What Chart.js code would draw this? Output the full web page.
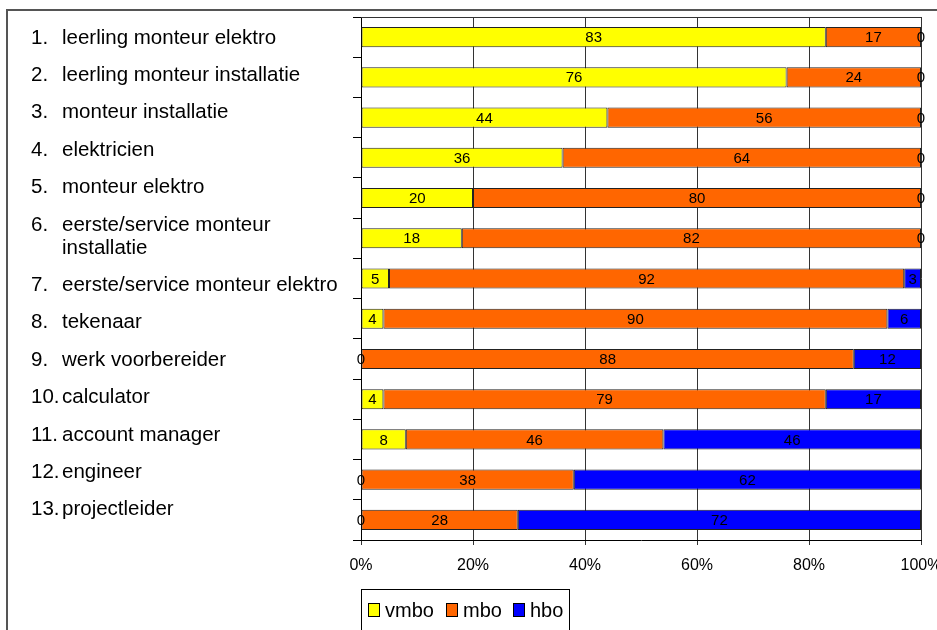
<!DOCTYPE html>
<html>
<head>
<meta charset="utf-8">
<script src="https://cdn.jsdelivr.net/npm/chart.js@4/dist/chart.umd.min.js"></script>
<style>
  html, body { margin: 0; padding: 0; background: #fff; }
  #wrap { width: 937px; height: 630px; }
</style>
</head>
<body>
<div id="wrap"><canvas id="bar-graph"></canvas></div>
<script>
const categories = [
    'leerling monteur elektro',
    'leerling monteur installatie',
    'monteur installatie',
    'elektricien',
    'monteur elektro',
    ['eerste/service monteur', 'installatie'],
    'eerste/service monteur elektro',
    'tekenaar',
    'werk voorbereider',
    'calculator',
    'account manager',
    'engineer',
    'projectleider'
];
const vmbo = [83, 76, 44, 36, 20, 18, 5, 4, 0, 4, 8, 0, 0];
const mbo  = [17, 24, 56, 64, 80, 82, 92, 90, 88, 79, 46, 38, 28];
const hbo  = [0, 0, 0, 0, 0, 0, 3, 6, 12, 17, 46, 62, 72];
const seriesNames = ['vmbo', 'mbo', 'hbo'];
const colors = ['#ffff00', '#ff6600', '#0000ff'];

const FONT = 'Arial, "Liberation Sans", sans-serif';

// left hand list, frame, top border, values and legend
const extras = {
    id: 'extras',
    beforeDatasetsDraw(chart) {
        const ctx = chart.ctx;
        const a = chart.chartArea;
        ctx.save();
        ctx.strokeStyle = '#333';
        ctx.lineWidth = 1;
        ctx.beginPath();
        ctx.moveTo(a.left, Math.round(a.top) + 0.5);
        ctx.lineTo(a.right, Math.round(a.top) + 0.5);
        ctx.stroke();
        ctx.restore();
    },
    afterDraw(chart) {
        const ctx = chart.ctx;
        ctx.save();

        // outer frame
        ctx.strokeStyle = '#555';
        ctx.lineWidth = 2;
        ctx.beginPath();
        ctx.moveTo(7, 640);
        ctx.lineTo(7, 10);
        ctx.lineTo(940, 10);
        ctx.stroke();

        // category list
        ctx.fillStyle = '#000';
        ctx.font = '20.5px ' + FONT;
        ctx.textBaseline = 'middle';
        ctx.textAlign = 'left';
        let y = 38;
        categories.forEach((c, i) => {
            ctx.fillText((i + 1) + '.', 31, y);
            const lines = Array.isArray(c) ? c : [c];
            lines.forEach((l, j) => {
                if (j > 0) y += 23;
                ctx.fillText(l, 62, y);
            });
            y += 37.4;
        });

        // values in the bars
        ctx.font = '15px ' + FONT;
        ctx.textAlign = 'center';
        chart.data.datasets.forEach((ds, di) => {
            chart.getDatasetMeta(di).data.forEach((bar, i) => {
                const p = bar.getProps(['x', 'y', 'base']);
                ctx.fillText(String(ds.data[i]), (p.x + p.base) / 2, p.y + 1);
            });
        });

        // legend
        ctx.strokeStyle = '#000';
        ctx.lineWidth = 1;
        ctx.fillStyle = '#fff';
        ctx.fillRect(361.5, 589.5, 208, 45);
        ctx.strokeRect(361.5, 589.5, 208, 45);
        ctx.font = '20px ' + FONT;
        ctx.textAlign = 'left';
        const lx = [368, 446, 513];
        seriesNames.forEach((n, i) => {
            ctx.fillStyle = colors[i];
            ctx.fillRect(lx[i] + 0.5, 603.5, 11, 13);
            ctx.strokeRect(lx[i] + 0.5, 603.5, 11, 13);
            ctx.fillStyle = '#000';
            ctx.fillText(n, lx[i] + 17, 611);
        });
        ctx.restore();
    }
};

const bar_graph = new Chart(document.querySelector('#bar-graph'), {
    type: 'bar',
    data: {
        labels: categories,
        datasets: [vmbo, mbo, hbo].map((d, i) => ({
            label: seriesNames[i],
            data: d,
            backgroundColor: colors[i],
            borderColor: '#222',
            borderWidth: 1,
            borderSkipped: false,
            categoryPercentage: 1,
            barPercentage: 0.5
        }))
    },
    options: {
        indexAxis: 'y',
        responsive: true,
        maintainAspectRatio: false,
        animation: false,
        layout: { padding: { left: 351, right: 16, top: 17, bottom: 50 } },
        plugins: {
            legend: { display: false },
            tooltip: { enabled: false }
        },
        scales: {
            x: {
                stacked: true,
                min: 0,
                max: 100,
                afterFit: (s) => { s.height = 40; s.paddingLeft = 0; s.paddingRight = 0; },
                ticks: {
                    stepSize: 20,
                    color: '#000',
                    font: { family: FONT, size: 16 },
                    padding: 11,
                    maxRotation: 0,
                    callback: (v) => v + '%'
                },
                grid: { color: '#333', lineWidth: 1, tickLength: 5 },
                border: { color: '#000' }
            },
            y: {
                stacked: true,
                afterFit: (s) => { s.width = 10; },
                ticks: { display: false },
                grid: { offset: true, drawOnChartArea: false, tickLength: 8, color: '#000' },
                border: { color: '#000' }
            }
        }
    },
    plugins: [extras]
});
</script>
</body>
</html>
